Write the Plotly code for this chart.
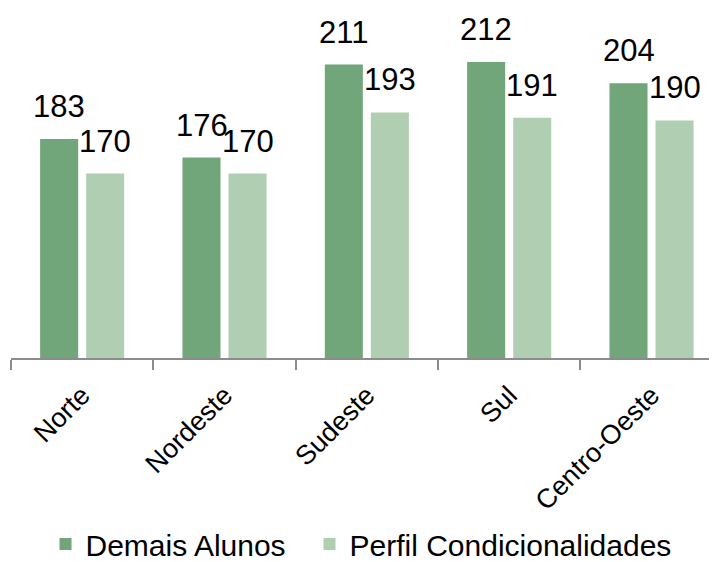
import plotly.graph_objects as go

categories = ["Norte", "Nordeste", "Sudeste", "Sul", "Centro-Oeste"]
demais_alunos = [183, 176, 211, 212, 204]
perfil_condicionalidades = [170, 170, 193, 191, 190]
series_names = ["Demais Alunos", "Perfil Condicionalidades"]

DARK = "#71A57A"
LIGHT = "#B0CFB2"
SANS = "Liberation Sans, Arial, sans-serif"

fig = go.Figure()
fig.add_trace(go.Bar(name=series_names[0], x=categories, y=demais_alunos,
                     marker=dict(color=DARK, line=dict(width=0)), legend="legend"))
fig.add_trace(go.Bar(name=series_names[1], x=categories, y=perfil_condicionalidades,
                     marker=dict(color=LIGHT, line=dict(width=0)), legend="legend2"))

for vals, shift in ((demais_alunos, -23), (perfil_condicionalidades, 23)):
    for c, v in zip(categories, vals):
        fig.add_annotation(x=c, y=v, text=str(v), showarrow=False,
                           xshift=shift, yshift=13, yanchor="bottom",
                           font=dict(family=SANS, size=31, color="black"))

legend_common = dict(orientation="h", xanchor="left", yanchor="middle", y=-0.533,
                     bgcolor="rgba(0,0,0,0)",
                     font=dict(family=SANS, size=30, color="black"))

fig.update_layout(
    width=717, height=562,
    margin=dict(l=3, r=8, t=0, b=211),
    paper_bgcolor="white", plot_bgcolor="white",
    barmode="group", bargap=0.353, bargroupgap=0.174,
    showlegend=True,
    legend=dict(x=0.0489, **legend_common),
    legend2=dict(x=0.4228, **legend_common),
    xaxis=dict(range=[-0.5, 4.46], showline=True, linecolor="#8C8C8C", linewidth=1.5,
               ticks="outside", tickson="boundaries", ticklen=10, tickwidth=1.5,
               tickcolor="#8C8C8C", tickangle=-45, showgrid=False, automargin=False,
               ticklabelstandoff=9,
               tickfont=dict(family=SANS, size=27, color="black")),
    yaxis=dict(range=[100.6, 232.3], visible=False, showgrid=False, zeroline=False,
               automargin=False),
)

fig.write_html("out.html")
